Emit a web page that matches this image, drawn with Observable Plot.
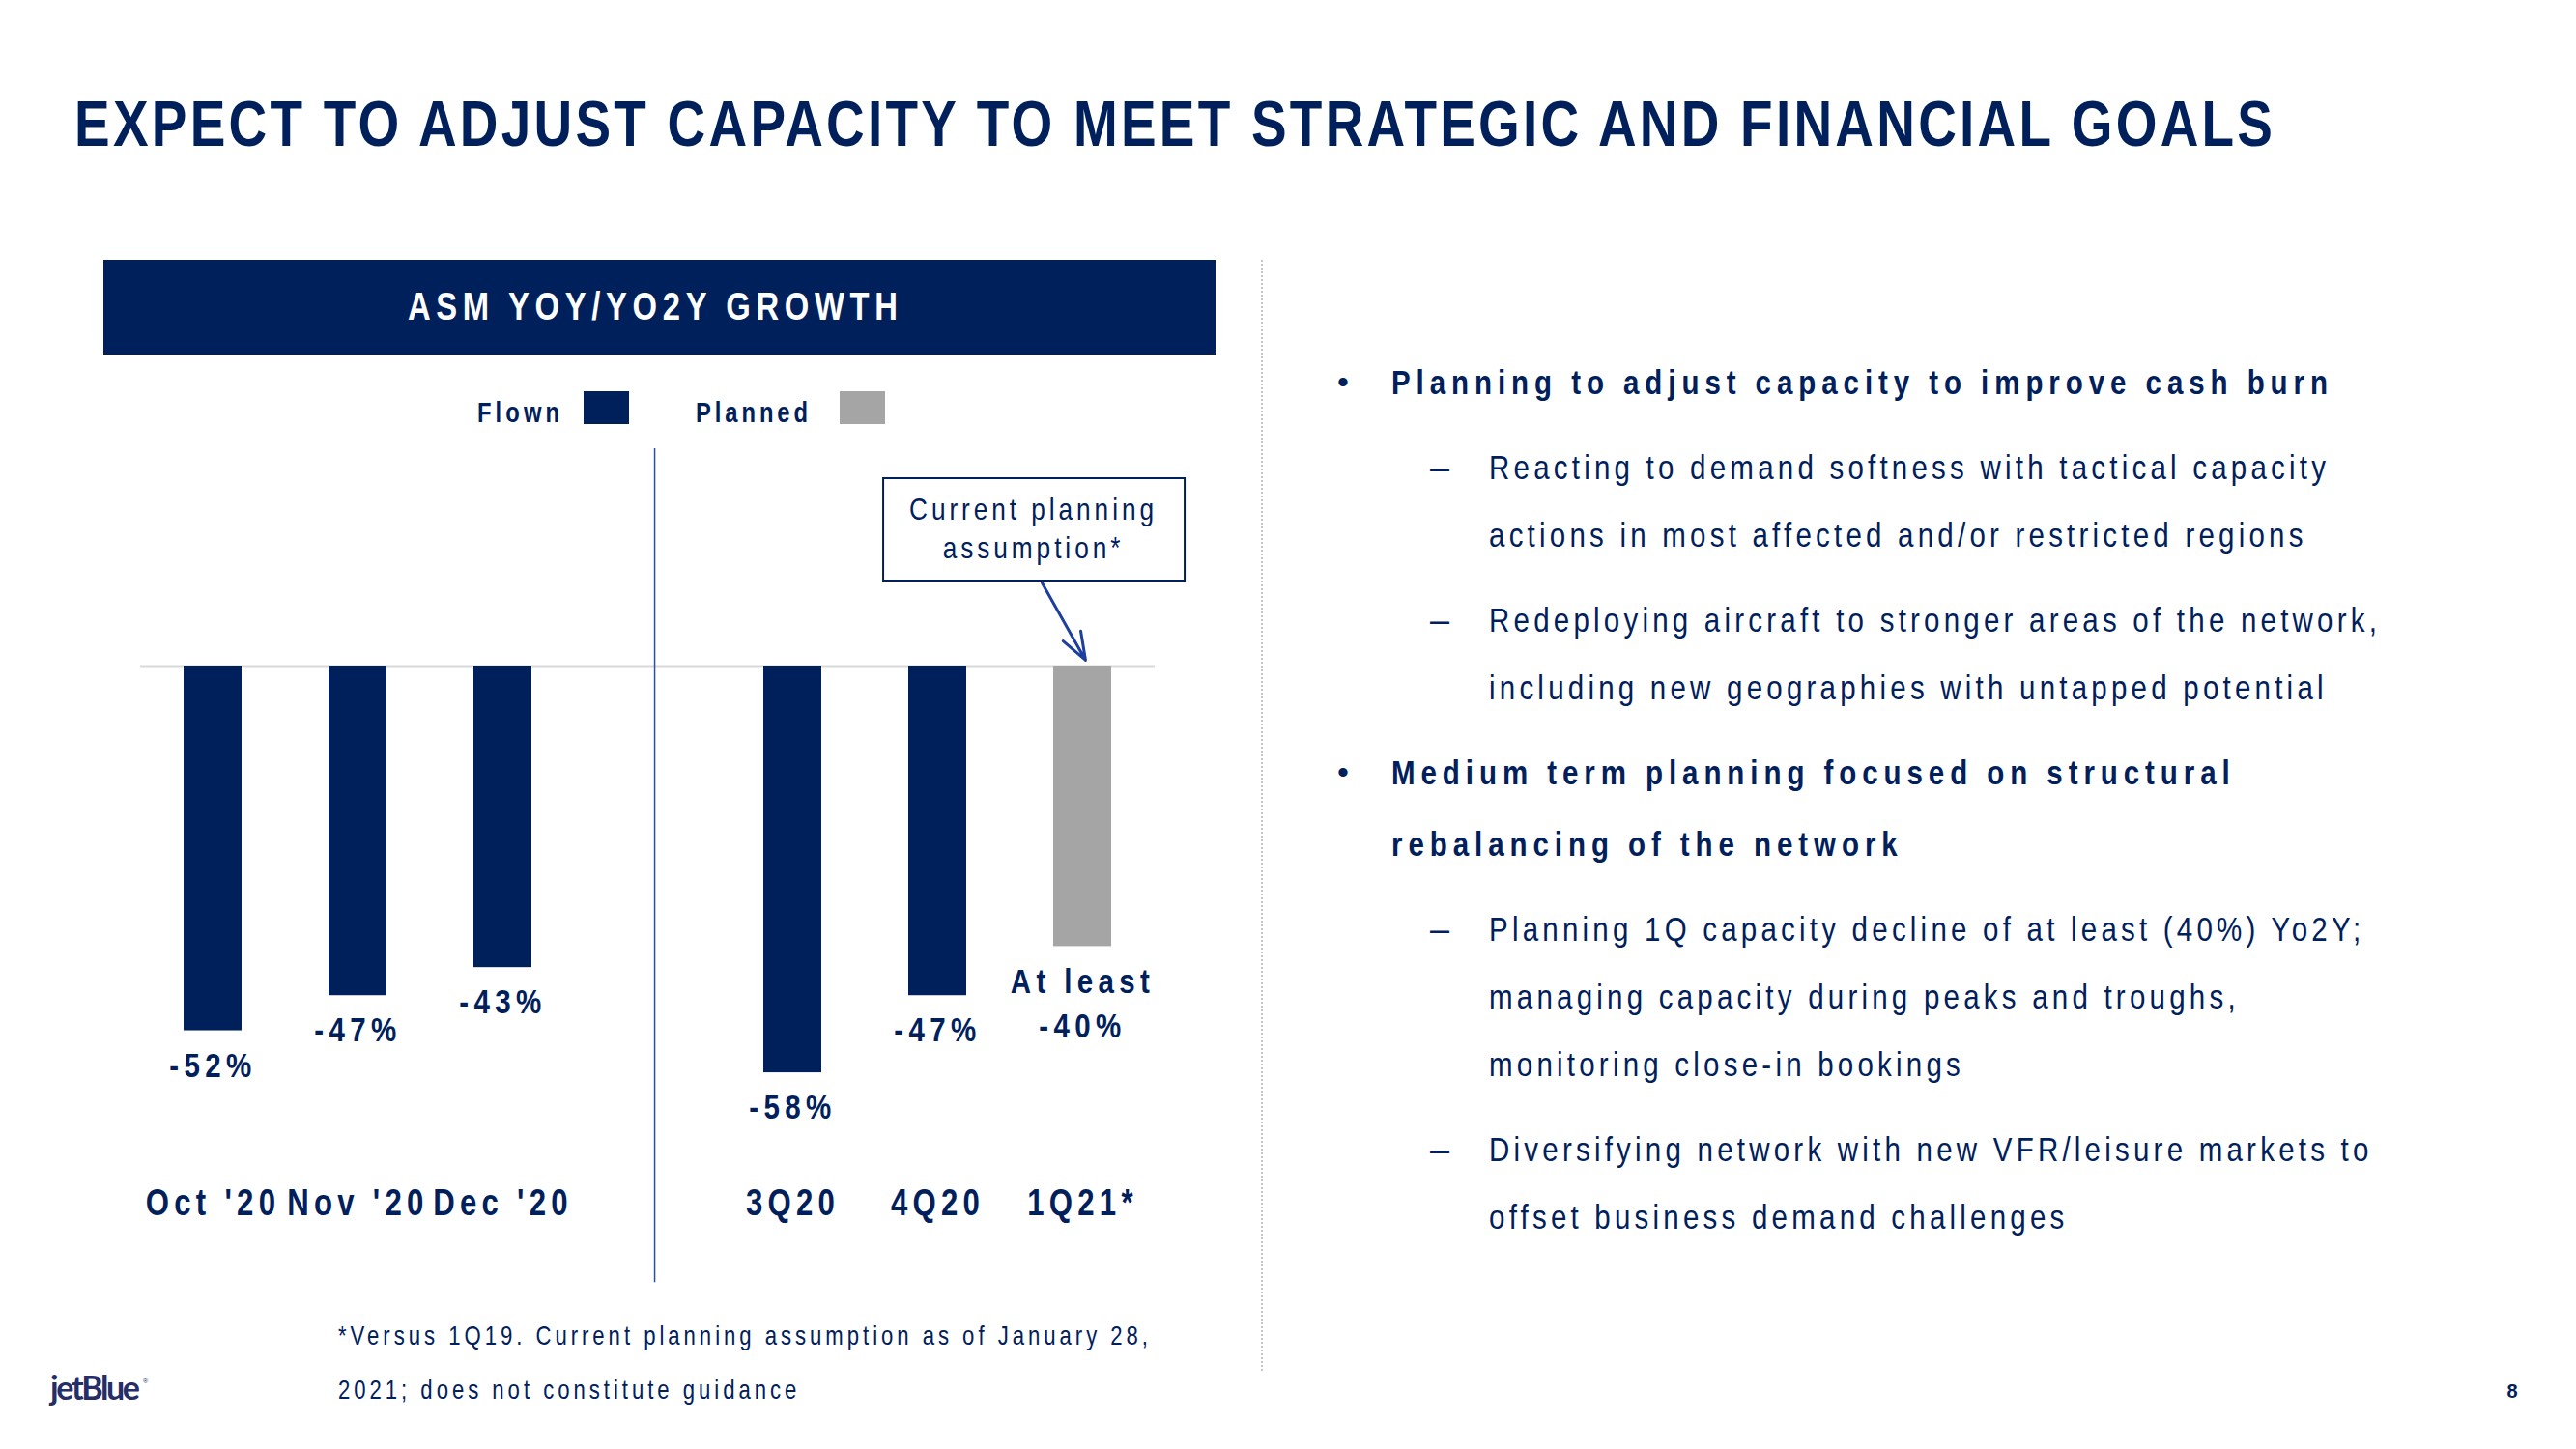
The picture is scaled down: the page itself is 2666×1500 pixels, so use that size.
<!DOCTYPE html>
<html>
<head>
<meta charset="utf-8">
<script src="https://cdn.jsdelivr.net/npm/d3@7"></script>
<script src="https://cdn.jsdelivr.net/npm/@observablehq/plot@0.6"></script>
<style>
  html, body { margin: 0; padding: 0; background: #fff; }
  #slide { position: relative; width: 2666px; height: 1500px; overflow: hidden; background: #fff; }
  #slide > svg { position: absolute; left: 0; top: 0; }
</style>
</head>
<body>
<div id="slide"></div>
<script>
// ---------------- DATA ----------------
const title = "EXPECT TO ADJUST CAPACITY TO MEET STRATEGIC AND FINANCIAL GOALS";
const chartTitle = "ASM YOY/YO2Y GROWTH";
const categories = ["Oct '20", "Nov '20", "Dec '20", "", "3Q20", "4Q20", "1Q21*"];
const values = [-52, -47, -43, null, -58, -47, -40];
const status = ["Flown", "Flown", "Flown", null, "Flown", "Flown", "Planned"];
const valueLabels = ["-52%", "-47%", "-43%", null, "-58%", "-47%", "At least\n-40%"];
const legendLabels = ["Flown", "Planned"];
const calloutText = "Current planning\nassumption*";
const footnoteLines = ["*Versus 1Q19. Current planning assumption as of January 28,", "2021; does not constitute guidance"];
const bullets = [
  {level: 1, lines: ["Planning to adjust capacity to improve cash burn"]},
  {level: 2, lines: ["Reacting to demand softness with tactical capacity", "actions in most affected and/or restricted regions"]},
  {level: 2, lines: ["Redeploying aircraft to stronger areas of the network,", "including new geographies with untapped potential"]},
  {level: 1, lines: ["Medium term planning focused on structural", "rebalancing of the network"]},
  {level: 2, lines: ["Planning 1Q capacity decline of at least (40%) Yo2Y;", "managing capacity during peaks and troughs,", "monitoring close-in bookings"]},
  {level: 2, lines: ["Diversifying network with new VFR/leisure markets to", "offset business demand challenges"]}
];
const logoText = "jetBlue";
const pageNumber = "8";

// ---------------- STYLE ----------------
const NAVY = "#00205b";
const GREY = "#a5a5a5";
const FONT = "'Liberation Sans', Arial, sans-serif";
const NARROW = 0.82; // horizontal condensation emulating a narrow face

const slide = d3.select("#slide");
const svg = slide.append("svg").attr("width", 2666).attr("height", 1500)
  .style("font-family", FONT);

// condensed text at (x, y) baseline
function ctext(x, y, str, size, weight, fill, anchor) {
  return svg.append("text")
    .attr("transform", `translate(${x},${y}) scale(${NARROW},1)`)
    .attr("font-size", size).attr("font-weight", weight || "normal")
    .attr("fill", fill || NAVY).attr("text-anchor", anchor || "start").text(str);
}
// letter-spacing so that visual width equals target
function fit(sel, target) {
  const el = sel.node();
  el.setAttribute("letter-spacing", 0);
  const w = el.getComputedTextLength();
  const n = el.textContent.length;
  const ls = (target / NARROW - w) / Math.max(1, n - 1);
  el.setAttribute("letter-spacing", ls);
  return ls;
}

// Title
fit(ctext(77, 151, title, 67, "bold"), 2275);

// Chart header band
svg.append("rect").attr("x", 107).attr("y", 269).attr("width", 1151).attr("height", 98).attr("fill", NAVY);
fit(ctext(422, 331, chartTitle, 40, "bold", "#fff"), 507);

// Legend (label then swatch)
const legendColors = [NAVY, GREY];
const legendX = [494, 720];
const legendW = [85, 116];
legendLabels.forEach((lab, i) => {
  fit(ctext(legendX[i], 437, lab, 29, "bold"), legendW[i]);
  svg.append("rect").attr("x", legendX[i] + legendW[i] + 25 + (i ? 8 : 0)).attr("y", 405)
    .attr("width", 47).attr("height", 34).attr("fill", legendColors[i]);
});

// Dotted vertical separator
svg.append("line").attr("x1", 1306).attr("x2", 1306).attr("y1", 269).attr("y2", 1420)
  .attr("stroke", "#8c8c8c").attr("stroke-width", 1).attr("stroke-dasharray", "2,2");

// Right column text
(function () {
  const probeB = ctext(0, 0, bullets[0].lines[0], 36, "bold");
  const lsB = fit(probeB, 969); probeB.remove();
  const probeR = ctext(0, 0, bullets[1].lines[0], 36, "normal");
  const lsR = fit(probeR, 866); probeR.remove();
  let y = 408;
  bullets.forEach((b, bi) => {
    if (bi > 0) y += 88;
    const bold = b.level === 1;
    const xText = bold ? 1440 : 1541;
    svg.append("text").attr("x", bold ? 1384 : 1480).attr("y", y - (bold ? 1 : 0))
      .attr("font-size", bold ? 34 : 36).attr("fill", NAVY).text(bold ? "•" : "–");
    b.lines.forEach((ln, li) => {
      if (li > 0) y += bold ? 74 : 70;
      ctext(xText, y, ln, 36, bold ? "bold" : "normal").attr("letter-spacing", bold ? lsB : lsR);
    });
  });
})();

// Footnote
(function () {
  const ls = fit(ctext(350, 1392, footnoteLines[0], 27), 838);
  ctext(350, 1448, footnoteLines[1], 27).attr("letter-spacing", ls);
})();

// Logo & page number
(function () {
  const t = svg.append("text").attr("x", 52).attr("y", 1449).attr("font-size", 34).attr("font-weight", 700)
    .attr("font-family", "Lato, 'Noto Sans', sans-serif").attr("fill", "#252e66").text(logoText);
  const w = t.node().getComputedTextLength();
  t.attr("letter-spacing", (93 - w) / (logoText.length - 1));
  svg.append("text").attr("x", 148).attr("y", 1432).attr("font-size", 7).attr("fill", "#252e66").text("®");
  svg.append("text").attr("x", 2600).attr("y", 1447).attr("font-size", 20).attr("font-weight", "bold")
    .attr("text-anchor", "middle").attr("fill", NAVY).text(pageNumber);
})();

// ---------------- CHART (Plot) ----------------
const rows = categories.map((c, i) => ({i, cat: c, value: values[i], status: status[i], label: valueLabels[i]}));
const barData = rows.filter(d => d.value != null);
const catData = rows.filter(d => d.cat !== "");

// annotation anchors (data units)
const divider = [{x: 3.047, y1: 31.0, y2: -87.9}];
const calloutBox = [{x1: 4.627, x2: 6.707, y1: 26.72, y2: 12.12}];
const calloutLabel = [{x: 5.66, y: 19.83, text: calloutText}];
const calloutArrow = [{x1: 5.72, y1: 11.85, x2: 6.02, y2: 0.83}];

const PX_PER_PCT = 7.26;
const chart = Plot.plot({
  width: 1300,
  height: 1500,
  marginLeft: 145,
  marginRight: 105,
  marginTop: 0,
  marginBottom: 243,
  style: {background: "transparent", overflow: "visible", fontFamily: FONT},
  x: {type: "linear", domain: [-0.5, 6.5], range: [145, 1195], axis: null},
  y: {domain: [0, -70], range: [689, 689 + 70 * PX_PER_PCT], axis: null},
  color: {domain: legendLabels, range: [NAVY, GREY]},
  marks: [
    Plot.ruleY([0], {stroke: "#d9d9d9", strokeWidth: 2}),
    Plot.ruleX(divider, {x: "x", y1: "y1", y2: "y2", stroke: "#2a4ea3", strokeWidth: 1.5}),
    Plot.rectY(barData, {x1: d => d.i - 0.2, x2: d => d.i + 0.2, y: "value", fill: "status"}),
    Plot.text(barData, {x: "i", y: "value", text: "label", lineAnchor: "top", lineHeight: 1.28, dy: 15,
      fontSize: 36, fontWeight: "bold", fill: NAVY}),
    Plot.text(catData, {x: "i", text: "cat", frameAnchor: "bottom", lineAnchor: "bottom",
      fontSize: 38, fontWeight: "bold", fill: NAVY}),
    Plot.rect(calloutBox, {x1: "x1", x2: "x2", y1: "y1", y2: "y2", fill: "white", stroke: NAVY, strokeWidth: 2}),
    Plot.text(calloutLabel, {x: "x", y: "y", text: "text", lineHeight: 1.25, fontSize: 32, fill: NAVY}),
    Plot.arrow(calloutArrow, {x1: "x1", y1: "y1", x2: "x2", y2: "y2", stroke: "#1f3f9f", strokeWidth: 3,
      headLength: 22, headAngle: 40})
  ]
});
slide.node().appendChild(chart);

// condense chart text and calibrate its letter-spacing on one sample per text mark
(function () {
  const groups = d3.select(chart).selectAll("g[aria-label='text']").nodes();
  const targets = [["-52%", 85], ["3Q20", 92], ["Current planning", 253]];
  groups.forEach((g, gi) => {
    g.querySelectorAll("text").forEach(t => {
      const tr = t.getAttribute("transform") || "";
      t.setAttribute("transform", `${tr} scale(${NARROW},1)`);
    });
    const [sample, target] = targets[gi] || [];
    if (!sample) return;
    const el = Array.from(g.querySelectorAll("text, tspan")).find(e => e.textContent === sample);
    if (!el) return;
    g.setAttribute("letter-spacing", 0);
    const w = el.getComputedTextLength();
    g.setAttribute("letter-spacing", (target / NARROW - w) / (sample.length - 1));
  });
})();
</script>
</body>
</html>
